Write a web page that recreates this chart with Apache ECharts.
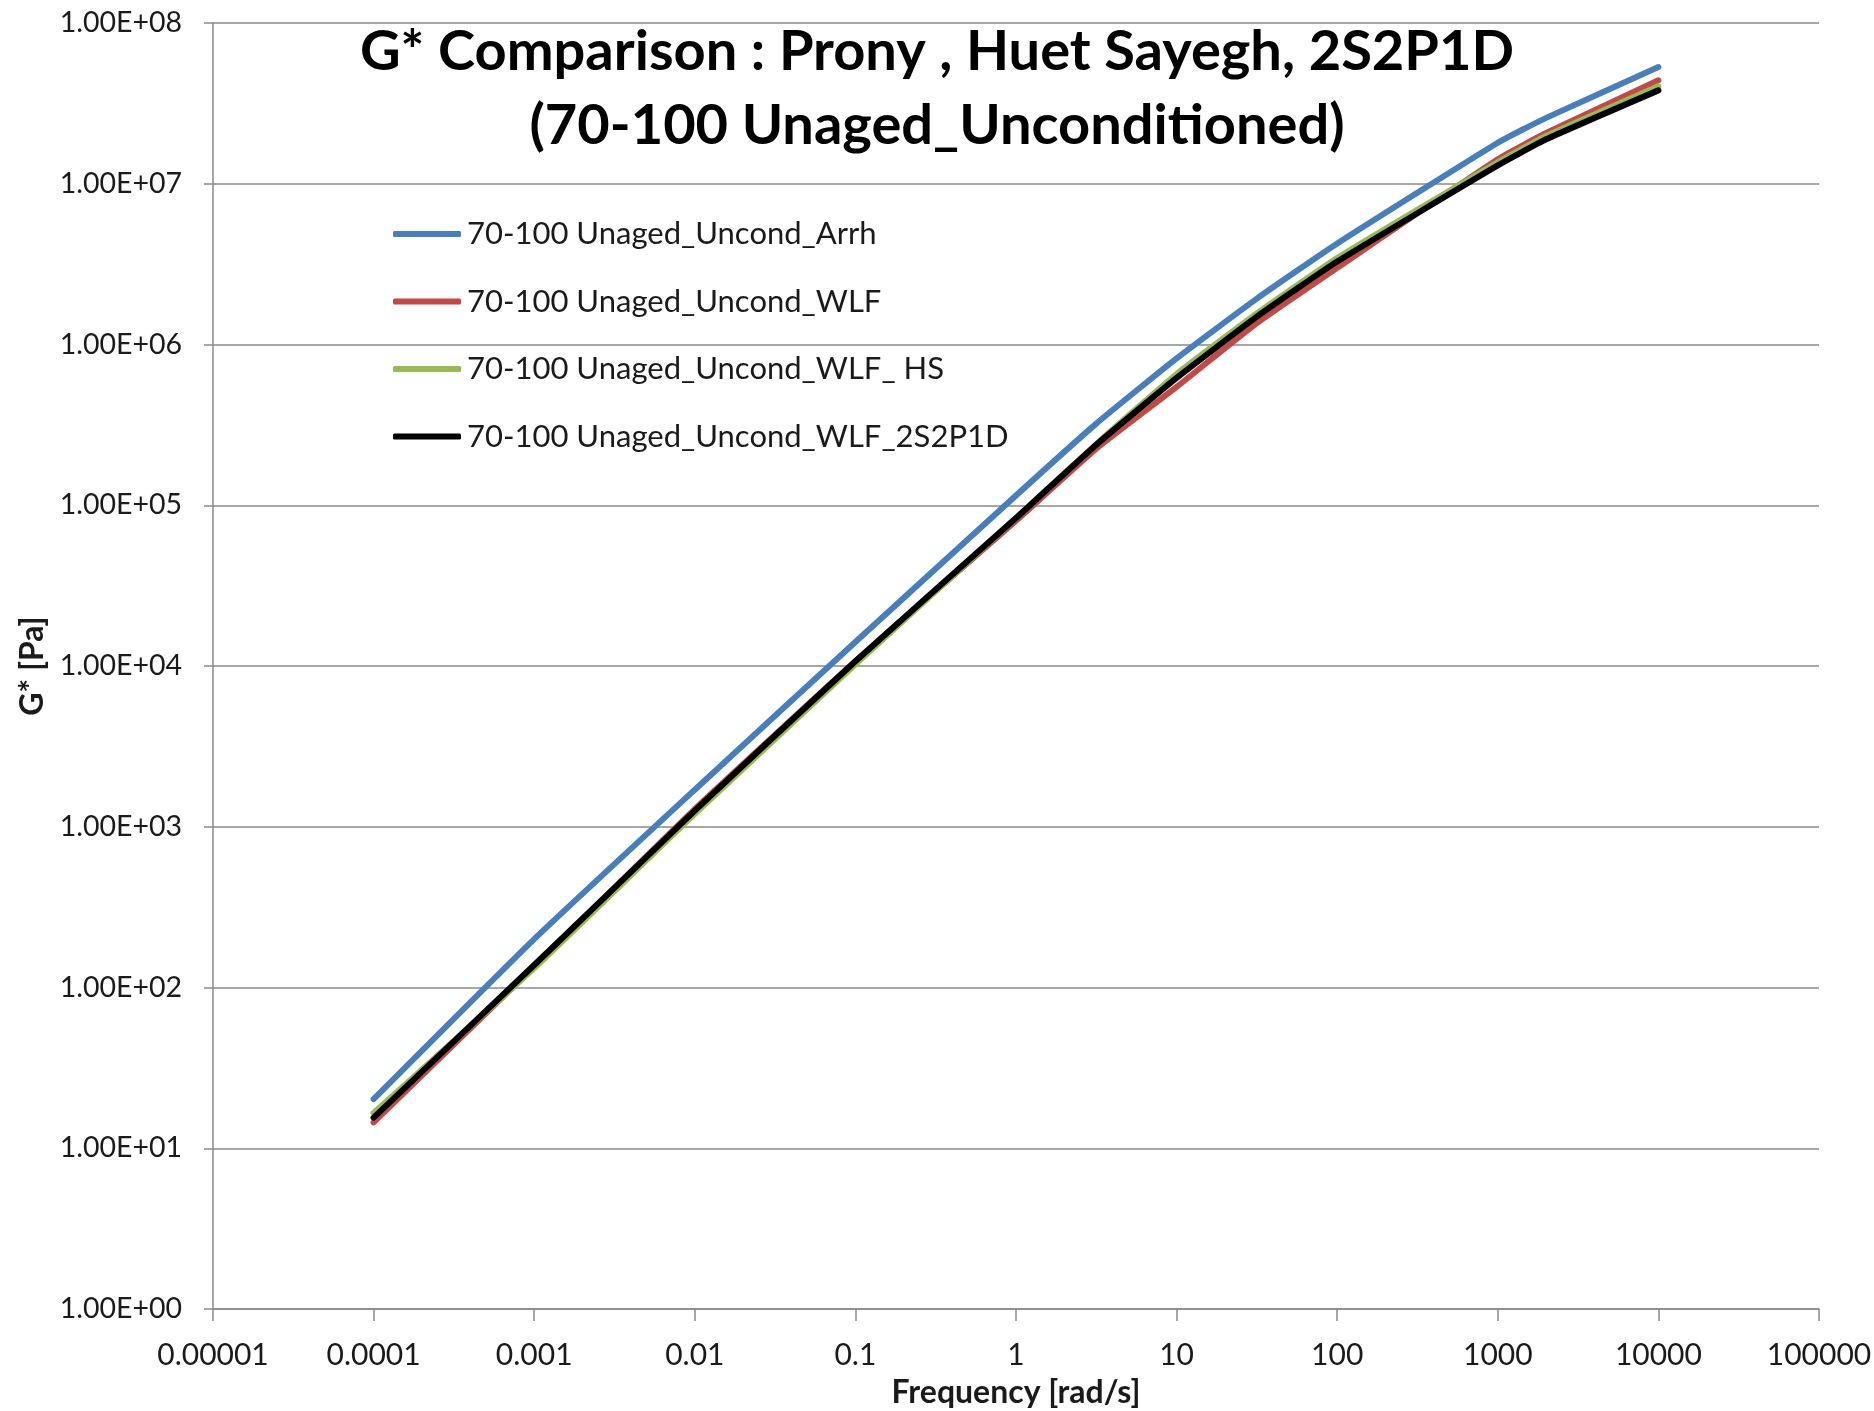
<!DOCTYPE html>
<html>
<head>
<meta charset="utf-8">
<title>G* Comparison</title>
<script src="https://cdn.jsdelivr.net/npm/echarts@6/dist/echarts.min.js"></script>
<style>
  html, body { margin: 0; padding: 0; background: #ffffff; }
  #chart { width: 1874px; height: 1411px; }
</style>
</head>
<body>
<div id="chart"></div>
<script>
// Angular frequency [rad/s] at which each model was evaluated
const frequency = [0.0001, 0.001, 0.01, 0.1, 1, 3.16, 10, 31.6, 100, 1000, 2000, 10000];

// |G*| [Pa] for each shift / model combination
const gArrh   = [20.2, 200, 1700, 14100, 115000, 322000, 820000, 1.93e6, 4.25e6, 1.80e7, 2.57e7, 5.32e7];
const gWLF    = [14.5, 135, 1288, 10700, 80000, 225000, 545000, 1.36e6, 3.0e6, 1.42e7, 2.07e7, 4.40e7];
const gWLF_HS = [16.6, 132, 1202, 10230, 83200, 240000, 655000, 1.56e6, 3.45e6, 1.36e7, 1.98e7, 4.04e7];
const g2S2P1D = [15.5, 138, 1259, 10715, 83180, 238000, 620000, 1.49e6, 3.28e6, 1.30e7, 1.89e7, 3.81e7];

const seriesNames = [
  '70-100 Unaged_Uncond_Arrh',
  '70-100 Unaged_Uncond_WLF',
  '70-100 Unaged_Uncond_WLF_ HS',
  '70-100 Unaged_Uncond_WLF_2S2P1D'
];
const seriesColors = ['#4A7EBB', '#BE4B48', '#98B954', '#000000'];

// Decade tick labels
const xTickLabels = ['0.00001', '0.0001', '0.001', '0.01', '0.1', '1', '10', '100', '1000', '10000', '100000'];
const yTickLabels = ['1.00E+00', '1.00E+01', '1.00E+02', '1.00E+03', '1.00E+04', '1.00E+05', '1.00E+06', '1.00E+07', '1.00E+08'];

const FONT = 'Lato';
const GRID_GREY = '#8a8a8a';

const pairs = vals => frequency.map((f, i) => [f, vals[i]]);
const allValues = [gArrh, gWLF, gWLF_HS, g2S2P1D];

const chart = echarts.init(document.getElementById('chart'), null, { renderer: 'canvas' });

chart.setOption({
  backgroundColor: '#ffffff',
  animation: false,
  title: {
    text: 'G* Comparison : Prony , Huet Sayegh, 2S2P1D\n(70-100 Unaged_Unconditioned)',
    left: 932,
    top: 10,
    textAlign: 'center',
    textStyle: {
      fontFamily: FONT,
      fontWeight: 'bold',
      fontSize: 56,
      lineHeight: 74,
      color: '#000000'
    }
  },
  legend: {
    orient: 'vertical',
    left: 388,
    top: 211,
    itemWidth: 68,
    itemHeight: 6,
    itemGap: 31.5,
    icon: 'roundRect',
    data: seriesNames,
    textStyle: {
      fontFamily: FONT,
      fontSize: 31,
      lineHeight: 36,
      color: '#1a1a1a',
      padding: [0, 0, 0, 1]
    }
  },
  grid: {
    left: 213,
    right: 55,
    top: 23,
    bottom: 102,
    containLabel: false,
    outerBoundsMode: 'none'
  },
  xAxis: {
    type: 'log',
    logBase: 10,
    min: 0.00001,
    max: 100000,
    interval: 1,
    splitNumber: 10,
    name: 'Frequency [rad/s]',
    nameLocation: 'middle',
    nameGap: 68,
    nameTextStyle: { fontFamily: FONT, fontWeight: 'bold', fontSize: 32, color: '#1a1a1a' },
    axisLine: { show: true, lineStyle: { color: GRID_GREY, width: 1.5 } },
    axisTick: { show: true, inside: false, length: 12, interval: 0, lineStyle: { color: GRID_GREY, width: 1.5 } },
    minorTick: { show: false },
    splitLine: { show: false },
    axisLabel: {
      margin: 31,
      interval: 0,
      hideOverlap: false,
      fontFamily: FONT,
      fontSize: 30,
      color: '#1a1a1a',
      formatter: v => xTickLabels[Math.round(Math.log10(v)) + 5]
    }
  },
  yAxis: {
    type: 'log',
    logBase: 10,
    min: 1,
    max: 100000000,
    interval: 1,
    splitNumber: 8,
    name: 'G* [Pa]',
    nameLocation: 'middle',
    nameGap: 164,
    nameRotate: 90,
    nameTextStyle: { fontFamily: FONT, fontWeight: 'bold', fontSize: 32, color: '#1a1a1a' },
    axisLine: { show: true, lineStyle: { color: GRID_GREY, width: 1.5 } },
    axisTick: { show: true, inside: false, length: 9, lineStyle: { color: GRID_GREY, width: 1.5 } },
    minorTick: { show: false },
    splitLine: { show: true, lineStyle: { color: GRID_GREY, width: 1.5 } },
    axisLabel: {
      margin: 31,
      fontFamily: FONT,
      fontSize: 28.5,
      color: '#1a1a1a',
      formatter: v => yTickLabels[Math.round(Math.log10(v))]
    }
  },
  series: seriesNames.map((name, i) => ({
    name: name,
    type: 'line',
    data: pairs(allValues[i]),
    symbol: 'none',
    smooth: 0.15,
    color: seriesColors[i],
    lineStyle: { color: seriesColors[i], width: 6, cap: 'round', join: 'round' },
    z: 2 + i
  }))
});
</script>
</body>
</html>
